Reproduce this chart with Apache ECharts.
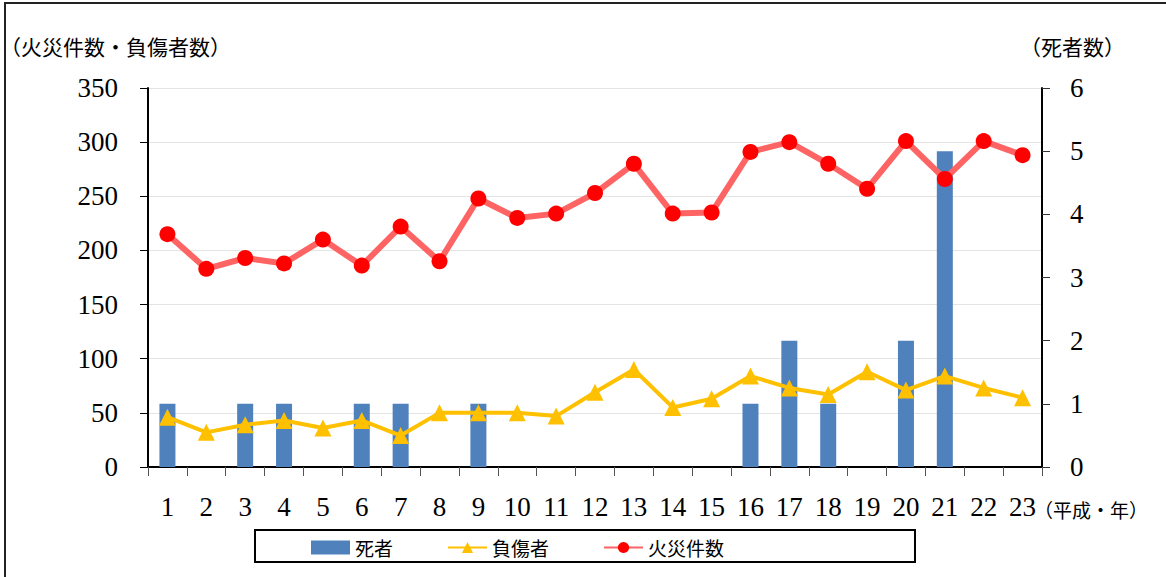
<!DOCTYPE html>
<html>
<head>
<meta charset="utf-8">
<script src="https://cdn.jsdelivr.net/npm/echarts@6/dist/echarts.min.js"></script>
<style>
  html, body { margin: 0; padding: 0; background: #fff; }
  #chart { width: 1166px; height: 577px; }
</style>
</head>
<body>
<div id="chart"></div>
<script>
const years = ['1', '2', '3', '4', '5', '6', '7', '8', '9', '10', '11', '12',
  '13', '14', '15', '16', '17', '18', '19', '20', '21', '22', '23']
const deaths = [1, 0, 1, 1, 0, 1, 1, 0, 1, 0, 0, 0, 0, 0, 0, 1, 2, 1, 0, 2, 5, 0, 0]
const injured = [46, 32, 39, 43, 36, 43, 29, 50, 50, 50, 47, 69, 90, 55, 63, 84, 73, 67, 88, 71, 84, 73, 64]
const fires = [215, 183, 193, 188, 210, 186, 222, 190, 248, 230, 234, 253, 280, 234, 235, 291, 300, 280, 257, 301, 266, 301, 288]

const serif = '"Liberation Serif", "DejaVu Serif", serif'
const gothic = '"Noto Sans CJK JP", "Noto Sans", sans-serif'

const chart = echarts.init(document.getElementById('chart'), null, { renderer: 'svg' })

const option = {
  animation: false,
  grid: { left: 148, right: 124, top: 88, bottom: 110 },
  legend: {
    left: 306,
    top: 533,
    itemWidth: 39,
    itemHeight: 14,
    itemGap: 54,
    textStyle: { fontFamily: gothic, fontSize: 19, color: '#000' },
    data: [
      { name: '死者', icon: 'rect' },
      { name: '負傷者' },
      { name: '火災件数' }
    ]
  },
  graphic: [
    {
      type: 'rect',
      shape: { x: 5, y: 3, width: 1175, height: 600 },
      style: { fill: 'none', stroke: '#222', lineWidth: 2 },
      silent: true
    },
    {
      type: 'rect',
      shape: { x: 255, y: 530, width: 660, height: 32 },
      style: { fill: 'none', stroke: '#000', lineWidth: 2 },
      silent: true
    },
    {
      type: 'text',
      left: 0, top: 35,
      style: { text: '（火災件数・負傷者数）', font: '21px ' + gothic, fill: '#000' }
    },
    {
      type: 'text',
      left: 1020, top: 35,
      style: { text: '（死者数）', font: '21px ' + gothic, fill: '#000' }
    },
    {
      type: 'text',
      left: 1034, top: 500,
      style: { text: '（平成・年）', font: '19px ' + gothic, fill: '#000' }
    }
  ],
  xAxis: {
    type: 'category',
    data: years,
    boundaryGap: true,
    axisLine: { lineStyle: { color: '#000', width: 2 } },
    axisTick: { show: true, length: 9, lineStyle: { color: '#555', width: 1 } },
    axisLabel: { color: '#000', fontFamily: serif, fontSize: 27, margin: 26, interval: 0 }
  },
  yAxis: [
    {
      type: 'value',
      min: 0, max: 350, interval: 50,
      axisLine: { show: true, lineStyle: { color: '#000', width: 2 } },
      axisTick: { show: true, length: 8, lineStyle: { color: '#000' } },
      axisLabel: { color: '#000', fontFamily: serif, fontSize: 27, margin: 30 },
      splitLine: { show: true, lineStyle: { color: '#e4e4e4', width: 1 } }
    },
    {
      type: 'value',
      min: 0, max: 6, interval: 1,
      axisLine: { show: true, lineStyle: { color: '#000', width: 2 } },
      axisTick: { show: true, length: 8, lineStyle: { color: '#333' } },
      axisLabel: { color: '#000', fontFamily: serif, fontSize: 27, margin: 28 },
      splitLine: { show: false }
    }
  ],
  series: [
    {
      name: '死者',
      type: 'bar',
      yAxisIndex: 1,
      data: deaths,
      barWidth: 16,
      itemStyle: { color: '#4f81bd' }
    },
    {
      name: '負傷者',
      type: 'line',
      yAxisIndex: 0,
      data: injured,
      symbol: 'triangle',
      symbolSize: 17,
      lineStyle: { color: '#ffc000', width: 4 },
      itemStyle: { color: '#ffc000' },
      z: 3
    },
    {
      name: '火災件数',
      type: 'line',
      yAxisIndex: 0,
      data: fires,
      symbol: 'circle',
      symbolSize: 16,
      lineStyle: { color: '#ff6464', width: 6 },
      itemStyle: { color: '#ff0000' },
      z: 4
    }
  ]
}

chart.setOption(option)
</script>
</body>
</html>
